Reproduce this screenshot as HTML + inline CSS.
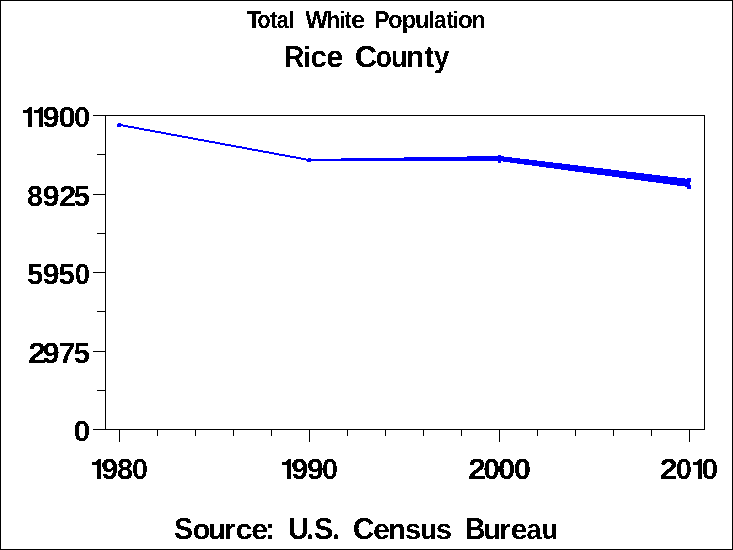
<!DOCTYPE html>
<html><head><meta charset="utf-8"><title>Total White Population - Rice County</title>
<style>
html,body{margin:0;padding:0;background:#fff;overflow:hidden;}
svg{display:block;}
text{font-family:"Liberation Sans",sans-serif;font-weight:bold;fill:#000;text-rendering:geometricPrecision;}
</style></head><body>
<svg width="733" height="550" viewBox="0 0 733 550" role="img" aria-label="Total White Population, Rice County. Source: U.S. Census Bureau">
<g shape-rendering="crispEdges">
<rect x="0.5" y="0.5" width="732" height="549" fill="#fff" stroke="#000" stroke-width="1"/>
<rect x="105.5" y="115.5" width="599" height="314" fill="none" stroke="#000" stroke-width="1"/>
<rect x="93" y="429" width="12" height="1" fill="#000"/>
<rect x="97" y="390" width="8" height="1" fill="#000"/>
<rect x="93" y="351" width="12" height="1" fill="#000"/>
<rect x="97" y="311" width="8" height="1" fill="#000"/>
<rect x="93" y="272" width="12" height="1" fill="#000"/>
<rect x="97" y="233" width="8" height="1" fill="#000"/>
<rect x="93" y="194" width="12" height="1" fill="#000"/>
<rect x="97" y="154" width="8" height="1" fill="#000"/>
<rect x="93" y="115" width="12" height="1" fill="#000"/>
<rect x="119" y="430" width="1" height="12" fill="#000"/>
<rect x="157" y="430" width="1" height="6" fill="#000"/>
<rect x="195" y="430" width="1" height="6" fill="#000"/>
<rect x="233" y="430" width="1" height="6" fill="#000"/>
<rect x="271" y="430" width="1" height="6" fill="#000"/>
<rect x="309" y="430" width="1" height="12" fill="#000"/>
<rect x="347" y="430" width="1" height="6" fill="#000"/>
<rect x="385" y="430" width="1" height="6" fill="#000"/>
<rect x="423" y="430" width="1" height="6" fill="#000"/>
<rect x="461" y="430" width="1" height="6" fill="#000"/>
<rect x="499" y="430" width="1" height="12" fill="#000"/>
<rect x="537" y="430" width="1" height="6" fill="#000"/>
<rect x="575" y="430" width="1" height="6" fill="#000"/>
<rect x="613" y="430" width="1" height="6" fill="#000"/>
<rect x="651" y="430" width="1" height="6" fill="#000"/>
<rect x="689" y="430" width="1" height="12" fill="#000"/>
<polygon points="119,123.8 309,159 309,161 119,125.8" fill="#0000ff"/>
<polygon points="309,159 499,156 499,161 309,161" fill="#0000ff"/>
<polygon points="499,155.9 689,179.0 689,187.1 499,161" fill="#0000ff"/>
<path d="M118,123h3v4h-4v-3h1z" fill="#0000ff"/>
<path d="M308,158h3v4h-4v-3h1z" fill="#0000ff"/>
<rect x="498" y="155" width="3" height="8" fill="#0000ff"/>
<path d="M687,178h4v4h-1v3h1v4h-4z" fill="#0000ff"/>
</g>
<defs><filter id="alias" x="0" y="0" width="733" height="550" filterUnits="userSpaceOnUse" color-interpolation-filters="sRGB"><feComponentTransfer><feFuncA type="discrete" tableValues="0 1"/></feComponentTransfer></filter></defs>
<g filter="url(#alias)">
<g aria-label="Total">
<text transform="translate(246.83,28) scale(0.963,1)" font-size="24.5">T</text>
<text transform="translate(257.46,28) scale(0.873,1)" font-size="24.5">o</text>
<text transform="translate(270.04,28) scale(0.873,1)" font-size="24.5">t</text>
<text transform="translate(276.77,28) scale(0.873,1)" font-size="24.5">a</text>
<text transform="translate(288.22,28) scale(0.982,0.96)" font-size="24.5">l</text>
</g>
<g aria-label="White">
<text transform="translate(305.18,28) scale(0.984,1)" font-size="24.5">W</text>
<text transform="translate(326.74,28) scale(0.912,0.96)" font-size="24.5">h</text>
<text transform="translate(339.02,28) scale(0.922,0.96)" font-size="24.5">i</text>
<text transform="translate(344.65,28) scale(0.820,1)" font-size="24.5">t</text>
<text transform="translate(350.90,28) scale(1.048,1)" font-size="24.5">e</text>
</g>
<g aria-label="Population">
<text transform="translate(374.40,28) scale(0.916,1)" font-size="24.5">P</text>
<text transform="translate(388.07,28) scale(0.973,1)" font-size="24.5">o</text>
<text transform="translate(401.40,28) scale(0.988,1)" font-size="24.5">p</text>
<text transform="translate(415.04,28) scale(0.964,1)" font-size="24.5">u</text>
<text transform="translate(428.47,28) scale(0.952,0.96)" font-size="24.5">l</text>
<text transform="translate(434.05,28) scale(0.903,1)" font-size="24.5">a</text>
<text transform="translate(446.64,28) scale(0.873,1)" font-size="24.5">t</text>
<text transform="translate(452.47,28) scale(0.952,0.96)" font-size="24.5">i</text>
<text transform="translate(457.84,28) scale(1.004,1)" font-size="24.5">o</text>
<text transform="translate(471.71,28) scale(0.921,1)" font-size="24.5">n</text>
</g>
<g aria-label="Rice">
<text transform="translate(284.01,67) scale(0.928,1.0)" font-size="30.4">R</text>
<text transform="translate(303.06,67) scale(0.959,0.96)" font-size="30.4">i</text>
<text transform="translate(310.55,67) scale(0.971,1.0)" font-size="30.4">c</text>
<text transform="translate(326.19,67) scale(1.015,1.0)" font-size="30.4">e</text>
</g>
<g aria-label="County">
<text transform="translate(354.63,67) scale(1.021,1.0)" font-size="30.4">C</text>
<text transform="translate(375.87,67) scale(0.871,1.0)" font-size="30.4">o</text>
<text transform="translate(390.85,67) scale(0.926,1.0)" font-size="30.4">u</text>
<text transform="translate(405.48,67) scale(1.008,1.0)" font-size="30.4">n</text>
<text transform="translate(424.55,67) scale(0.938,1.0)" font-size="30.4">t</text>
<text transform="translate(433.89,67) scale(0.903,1.0)" font-size="30.4">y</text>
</g>
<g aria-label="11900">
<path transform="translate(23.00,127) scale(1.000)" d="M0,-17 L3.6,-17 L6.4,-20 L9,-20 L9,0 L5,0 L5,-14 L0,-14 Z" fill="#000"/>
<path transform="translate(34.00,127) scale(1.000)" d="M0,-17 L3.6,-17 L6.4,-20 L9,-20 L9,0 L5,0 L5,-14 L0,-14 Z" fill="#000"/>
<text transform="translate(42.53,127) scale(1.068,1)" font-size="29">9</text>
<text transform="translate(58.57,127) scale(1.073,1)" font-size="29">0</text>
<text transform="translate(73.94,127) scale(1.008,1)" font-size="29">0</text>
</g>
<g aria-label="8925">
<text transform="translate(27.09,206) scale(0.985,1)" font-size="29">8</text>
<text transform="translate(42.53,206) scale(1.068,1)" font-size="29">9</text>
<text transform="translate(59.02,206) scale(1.074,1)" font-size="29">2</text>
<text transform="translate(73.71,206) scale(0.998,1)" font-size="29">5</text>
</g>
<g aria-label="5950">
<text transform="translate(27.10,284) scale(1.012,1)" font-size="29">5</text>
<text transform="translate(42.53,284) scale(1.068,1)" font-size="29">9</text>
<text transform="translate(58.60,284) scale(1.012,1)" font-size="29">5</text>
<text transform="translate(74.49,284) scale(0.972,1)" font-size="29">0</text>
</g>
<g aria-label="2975">
<text transform="translate(27.88,363) scale(1.110,1)" font-size="29">2</text>
<text transform="translate(42.53,363) scale(1.068,1)" font-size="29">9</text>
<text transform="translate(58.49,363) scale(1.051,1)" font-size="29">7</text>
<text transform="translate(73.71,363) scale(0.998,1)" font-size="29">5</text>
</g>
<g aria-label="0">
<text transform="translate(73.40,441) scale(1.044,1)" font-size="29">0</text>
</g>
<g aria-label="1980">
<path transform="translate(92.00,479) scale(1.000)" d="M0,-17 L3.6,-17 L6.4,-20 L9,-20 L9,0 L5,0 L5,-14 L0,-14 Z" fill="#000"/>
<text transform="translate(101.14,479) scale(1.054,1)" font-size="29">9</text>
<text transform="translate(117.08,479) scale(0.999,1)" font-size="29">8</text>
<text transform="translate(132.06,479) scale(0.993,1)" font-size="29">0</text>
</g>
<g aria-label="1990">
<path transform="translate(282.00,479) scale(1.000)" d="M0,-17 L3.6,-17 L6.4,-20 L9,-20 L9,0 L5,0 L5,-14 L0,-14 Z" fill="#000"/>
<text transform="translate(291.14,479) scale(1.054,1)" font-size="29">9</text>
<text transform="translate(306.96,479) scale(1.039,1)" font-size="29">9</text>
<text transform="translate(322.06,479) scale(0.993,1)" font-size="29">0</text>
</g>
<g aria-label="2000">
<text transform="translate(467.88,479) scale(1.110,1)" font-size="29">2</text>
<text transform="translate(483.30,479) scale(1.044,1)" font-size="29">0</text>
<text transform="translate(498.07,479) scale(1.073,1)" font-size="29">0</text>
<text transform="translate(513.87,479) scale(1.073,1)" font-size="29">0</text>
</g>
<g aria-label="2010">
<text transform="translate(659.78,479) scale(1.110,1)" font-size="29">2</text>
<text transform="translate(675.74,479) scale(1.008,1)" font-size="29">0</text>
<path transform="translate(693.00,479) scale(1.000)" d="M0,-17 L3.6,-17 L6.4,-20 L9,-20 L9,0 L5,0 L5,-14 L0,-14 Z" fill="#000"/>
<text transform="translate(701.51,479) scale(1.037,1)" font-size="29">0</text>
</g>
<g aria-label="Source:">
<text transform="translate(173.98,539) scale(0.939,1.0)" font-size="30.4">S</text>
<text transform="translate(192.68,539) scale(0.945,0.93)" font-size="30.4">o</text>
<text transform="translate(208.12,539) scale(0.947,0.93)" font-size="30.4">u</text>
<text transform="translate(224.10,539) scale(0.950,0.93)" font-size="30.4">r</text>
<text transform="translate(235.60,539) scale(1.012,0.93)" font-size="30.4">c</text>
<text transform="translate(251.22,539) scale(0.995,0.93)" font-size="30.4">e</text>
<text transform="translate(265.43,539) scale(0.912,1.0)" font-size="30.4">:</text>
</g>
<g aria-label="U.S.">
<text transform="translate(288.30,539) scale(0.930,1.0)" font-size="30.4">U</text>
<text transform="translate(306.37,539) scale(0.886,1.0)" font-size="30.4">.</text>
<text transform="translate(314.07,539) scale(0.950,1.0)" font-size="30.4">S</text>
<text transform="translate(332.27,539) scale(0.886,1.0)" font-size="30.4">.</text>
</g>
<g aria-label="Census">
<text transform="translate(353.00,539) scale(0.961,1.0)" font-size="30.4">C</text>
<text transform="translate(373.11,539) scale(1.001,0.93)" font-size="30.4">e</text>
<text transform="translate(388.22,539) scale(0.940,0.93)" font-size="30.4">n</text>
<text transform="translate(404.97,539) scale(0.959,0.93)" font-size="30.4">s</text>
<text transform="translate(420.56,539) scale(0.872,0.93)" font-size="30.4">u</text>
<text transform="translate(435.87,539) scale(0.966,0.93)" font-size="30.4">s</text>
</g>
<g aria-label="Bureau">
<text transform="translate(465.11,539) scale(0.928,1.0)" font-size="30.4">B</text>
<text transform="translate(482.93,539) scale(0.995,0.93)" font-size="30.4">u</text>
<text transform="translate(499.44,539) scale(0.929,0.93)" font-size="30.4">r</text>
<text transform="translate(510.82,539) scale(0.995,0.93)" font-size="30.4">e</text>
<text transform="translate(526.61,539) scale(0.888,0.93)" font-size="30.4">a</text>
<text transform="translate(541.67,539) scale(0.865,0.93)" font-size="30.4">u</text>
</g>
</g>
</svg>
</body></html>
